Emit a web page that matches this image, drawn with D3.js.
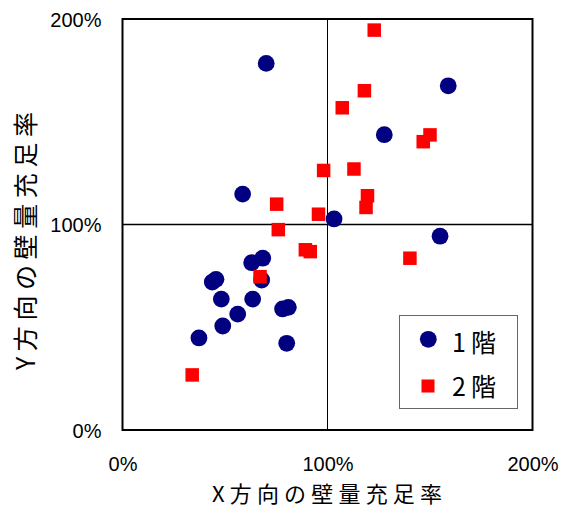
<!DOCTYPE html>
<html><head><meta charset="utf-8">
<script src="https://cdn.jsdelivr.net/npm/d3@7"></script>
<style>body{margin:0;background:#fff}</style>
</head><body>
<svg id="c" width="561" height="508"></svg>
<script>
const floor1X = [70.1,158.9,127.7,58.6,103.2,154.9,63.0,68.4,67.9,45.6,43.8,48.2,63.5,56.2,48.9,37.3,78.1,80.9,80.1];
const floor1Y = [178.4,167.5,143.7,114.8,102.7,94.3,81.4,83.6,73.0,73.3,72.0,63.7,63.7,56.4,50.6,44.8,58.9,59.7,42.2];
const floor2X = [122.8,118.0,107.2,150.0,146.7,98.1,112.9,119.5,118.8,75.2,95.6,76.0,89.2,91.6,67.1,140.2,34.0];
const floor2Y = [194.6,165.1,156.8,143.6,140.3,126.3,127.0,114.0,108.3,109.9,105.0,97.5,87.7,86.8,74.6,83.6,26.8];
const tickValues = [0,100,200];
const seriesNames = ["1階","2階"];
const xTitle = "X方向の壁量充足率";
const yTitle = "Y方向の壁量充足率";

const svg = d3.select("#c");
const L=122.5,R=532.5,T=19,B=430;
const x = d3.scaleLinear().domain([0,200]).range([L,R]);
const y = d3.scaleLinear().domain([0,200]).range([B,T]);
const numFont = "'Liberation Sans', Arial, sans-serif";
const jpFont = "'Noto Sans CJK JP', sans-serif";

// reference lines at 100%
svg.append("line").attr("x1",x(100)).attr("x2",x(100)).attr("y1",T).attr("y2",B).attr("stroke","#000").attr("stroke-width",1);
svg.append("line").attr("x1",L).attr("x2",R).attr("y1",y(100)).attr("y2",y(100)).attr("stroke","#000").attr("stroke-width",1.3);
// frame
svg.append("rect").attr("x",L).attr("y",T).attr("width",R-L).attr("height",B-T).attr("fill","none").attr("stroke","#000").attr("stroke-width",2);

// axes
const ya = svg.append("g").attr("transform",`translate(${L},0)`)
  .call(d3.axisLeft(y).tickValues(tickValues).tickSize(0).tickPadding(21).tickFormat(d=>d+"%"));
ya.select(".domain").remove();
ya.selectAll("text").attr("font-family",numFont).attr("font-size",20).attr("fill","#000").attr("dy","0.36em");
const xa = svg.append("g").attr("transform",`translate(0,${B})`)
  .call(d3.axisBottom(x).tickValues(tickValues).tickSize(0).tickPadding(27).tickFormat(d=>d+"%"));
xa.select(".domain").remove();
xa.selectAll("text").attr("font-family",numFont).attr("font-size",20).attr("fill","#000");

// titles
svg.append("text").attr("x",327).attr("y",502).attr("text-anchor","middle")
  .attr("font-family",jpFont).attr("font-size",22).attr("textLength",230).text(xTitle);
svg.append("text").attr("transform","translate(35,241) rotate(-90)").attr("text-anchor","middle")
  .attr("font-family",jpFont).attr("font-size",25).attr("textLength",258).text(yTitle);

// data
const d1 = floor1X.map((v,i)=>({x:v,y:floor1Y[i]}));
const d2 = floor2X.map((v,i)=>({x:v,y:floor2Y[i]}));
const sq = 13.5;
svg.append("g").selectAll("circle").data(d1).join("circle")
  .attr("cx",d=>x(d.x)).attr("cy",d=>y(d.y)).attr("r",8.4).attr("fill","#000080");
svg.append("g").selectAll("rect").data(d2).join("rect")
  .attr("x",d=>x(d.x)-sq/2).attr("y",d=>y(d.y)-sq/2).attr("width",sq).attr("height",sq).attr("fill","#ff0000");

// legend
const lg = svg.append("g");
lg.append("rect").attr("x",399.5).attr("y",315.5).attr("width",118).attr("height",93).attr("fill","#fff").attr("stroke","#666").attr("stroke-width",1);
lg.append("circle").attr("cx",428.3).attr("cy",339.3).attr("r",8.4).attr("fill","#000080");
lg.append("rect").attr("x",428-6.5).attr("y",386-6.5).attr("width",13).attr("height",13).attr("fill","#ff0000");
lg.append("text").attr("x",452).attr("y",352).attr("font-family",jpFont).attr("font-size",25).attr("letter-spacing",5).text(seriesNames[0]);
lg.append("text").attr("x",452).attr("y",396).attr("font-family",jpFont).attr("font-size",25).attr("letter-spacing",5).text(seriesNames[1]);
</script>
</body></html>
